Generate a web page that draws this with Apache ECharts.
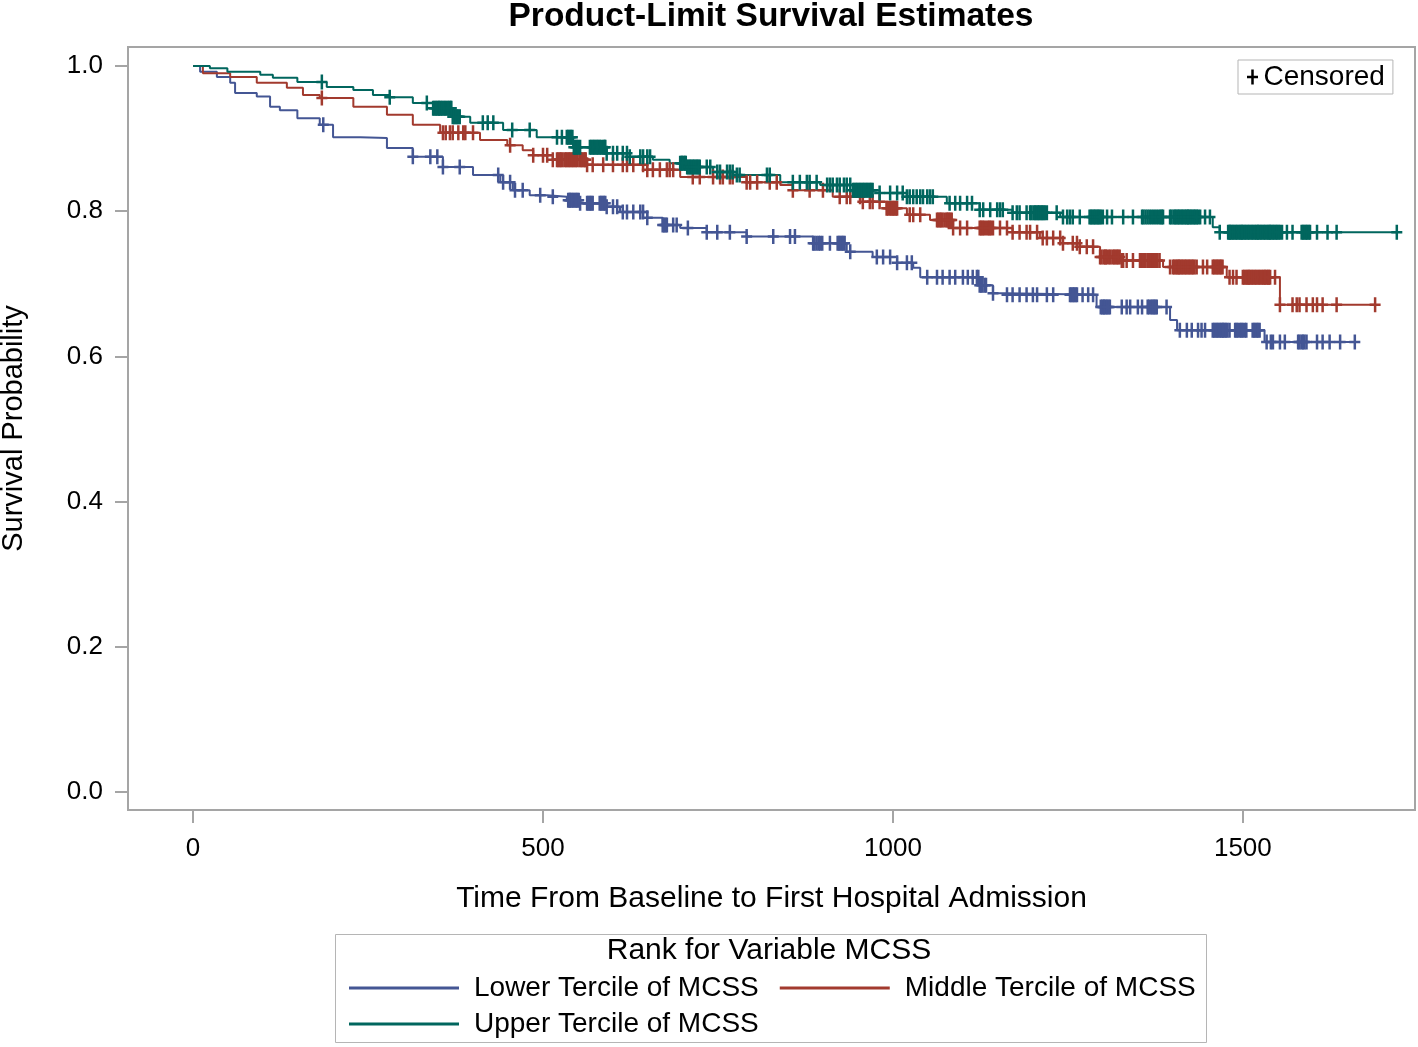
<!DOCTYPE html>
<html>
<head>
<meta charset="utf-8">
<title>Product-Limit Survival Estimates</title>
<script src="https://cdn.jsdelivr.net/npm/echarts@6.0.0/dist/echarts.min.js"></script>
<style>
  html, body { margin: 0; padding: 0; background: #fff; }
  #chart { width: 1418px; height: 1047px; }
</style>
</head>
<body>
<div id="chart"></div>
<script>
// groups
const groupNames = ['Lower Tercile of MCSS', 'Middle Tercile of MCSS', 'Upper Tercile of MCSS'];
const groupColors = ['#445694', '#A23A2E', '#01665E'];

// step estimates: time of each drop and survival after it
const lowerTime = [0, 10, 34, 53, 60, 91, 110, 124, 149, 181, 200, 239, 277, 314, 357, 400, 439, 457, 481, 506, 534, 553, 591, 610, 649, 671, 696, 734, 791, 886, 934, 971, 1006, 1029, 1039, 1124, 1143, 1163, 1291, 1396, 1406, 1531];
const lowerSurv = [1.0, 0.992, 0.985, 0.977, 0.963, 0.958, 0.944, 0.939, 0.928, 0.919, 0.902, 0.901, 0.887, 0.875, 0.861, 0.850, 0.840, 0.829, 0.822, 0.820, 0.815, 0.811, 0.806, 0.799, 0.791, 0.781, 0.777, 0.771, 0.765, 0.756, 0.744, 0.737, 0.729, 0.722, 0.709, 0.698, 0.687, 0.685, 0.668, 0.650, 0.636, 0.620];
// censored times (dense runs show as solid blocks)
const lowerCensor = [186, 314, 339, 349, 357, 381, 436, 443, 453, 460, 471, 496, 514, 539, 543, 549, 553, 563, 567, 571, 581, 587, 591, 600, 606, 614, 620, 629, 639, 643, 649, 671, 677, 686, 691, 707, 734, 749, 767, 791, 829, 853, 860, 886, 891, 899, 910, 921, 927, 931, 939, 977, 986, 996, 1006, 1020, 1027, 1049, 1063, 1071, 1081, 1089, 1100, 1107, 1114, 1120, 1126, 1131, 1143, 1163, 1171, 1181, 1191, 1200, 1206, 1220, 1229, 1253, 1259, 1263, 1271, 1279, 1286, 1299, 1304, 1310, 1327, 1334, 1339, 1350, 1356, 1364, 1369, 1373, 1377, 1391, 1410, 1420, 1427, 1436, 1441, 1446, 1457, 1463, 1469, 1474, 1481, 1489, 1496, 1503, 1514, 1520, 1524, 1534, 1540, 1543, 1553, 1560, 1579, 1584, 1591, 1606, 1614, 1624, 1639, 1660,
  536, 538, 541, 545, 547, 551, 565, 569, 583, 585, 589, 673, 675, 888, 894, 896, 923, 925, 929, 1122, 1124, 1128, 1133, 1255, 1257, 1261, 1297, 1301, 1302, 1306, 1308, 1366, 1371, 1375, 1459, 1461, 1465, 1467, 1471, 1472, 1476, 1478, 1491, 1493, 1498, 1500, 1505, 1516, 1518, 1522, 1581, 1586, 1588];

const middleTime = [0, 14, 53, 91, 134, 157, 181, 229, 277, 314, 353, 410, 449, 471, 486, 514, 563, 649, 696, 791, 839, 857, 914, 957, 991, 1020, 1053, 1086, 1171, 1210, 1243, 1267, 1296, 1327, 1386, 1477, 1553];
const middleSurv = [1.0, 0.990, 0.985, 0.977, 0.970, 0.960, 0.956, 0.944, 0.933, 0.919, 0.908, 0.898, 0.891, 0.884, 0.877, 0.871, 0.864, 0.857, 0.847, 0.840, 0.836, 0.829, 0.820, 0.813, 0.804, 0.795, 0.788, 0.777, 0.771, 0.763, 0.756, 0.751, 0.737, 0.732, 0.723, 0.709, 0.671];
const middleCensor = [184, 357, 361, 367, 371, 379, 386, 389, 400, 453, 486, 500, 506, 514, 520, 526, 531, 537, 543, 549, 554, 560, 563, 571, 586, 600, 614, 620, 629, 643, 649, 657, 667, 677, 681, 686, 714, 724, 743, 753, 757, 767, 771, 791, 796, 806, 824, 834, 857, 881, 900, 924, 934, 939, 953, 957, 967, 971, 981, 991, 996, 1000, 1006, 1024, 1029, 1039, 1063, 1069, 1074, 1080, 1086, 1096, 1106, 1124, 1130, 1136, 1143, 1153, 1163, 1171, 1181, 1191, 1196, 1206, 1214, 1220, 1229, 1239, 1243, 1257, 1263, 1267, 1277, 1286, 1296, 1301, 1306, 1314, 1320, 1324, 1329, 1334, 1343, 1353, 1359, 1364, 1370, 1376, 1381, 1396, 1400, 1406, 1411, 1417, 1423, 1429, 1434, 1443, 1449, 1457, 1463, 1467, 1471, 1481, 1486, 1491, 1500, 1506, 1511, 1517, 1523, 1529, 1534, 1539, 1546, 1553, 1571, 1577, 1581, 1591, 1600, 1606, 1614, 1634, 1689,
  522, 524, 528, 533, 535, 539, 541, 545, 547, 552, 556, 558, 561, 993, 998, 1002, 1004, 1065, 1067, 1071, 1077, 1078, 1082, 1084, 1126, 1128, 1133, 1138, 1140, 1298, 1303, 1304, 1309, 1311, 1316, 1318, 1322, 1327, 1355, 1357, 1361, 1366, 1368, 1372, 1374, 1378, 1402, 1404, 1408, 1409, 1413, 1415, 1419, 1421, 1425, 1427, 1431, 1459, 1461, 1465, 1469, 1502, 1504, 1508, 1509, 1513, 1515, 1519, 1521, 1525, 1527, 1531, 1532, 1536, 1537];

const upperTime = [0, 24, 49, 96, 114, 149, 191, 229, 257, 281, 314, 343, 371, 396, 443, 491, 543, 591, 624, 657, 681, 706, 743, 777, 839, 896, 943, 981, 1020, 1077, 1124, 1171, 1239, 1457, 1467];
const upperSurv = [1.0, 0.997, 0.992, 0.988, 0.984, 0.978, 0.971, 0.967, 0.960, 0.957, 0.949, 0.942, 0.930, 0.922, 0.912, 0.902, 0.888, 0.880, 0.875, 0.871, 0.866, 0.861, 0.854, 0.850, 0.840, 0.836, 0.829, 0.825, 0.820, 0.811, 0.802, 0.798, 0.792, 0.778, 0.771];
const upperCensor = [184, 281, 334, 343, 349, 354, 360, 366, 371, 377, 381, 414, 421, 429, 456, 481, 520, 527, 534, 540, 546, 553, 567, 573, 579, 586, 591, 600, 606, 614, 620, 624, 639, 643, 649, 653, 696, 701, 706, 710, 714, 720, 724, 734, 739, 749, 753, 763, 767, 771, 777, 781, 820, 824, 857, 867, 877, 881, 891, 906, 910, 914, 920, 924, 930, 934, 939, 943, 949, 953, 957, 963, 967, 971, 981, 996, 1006, 1014, 1020, 1024, 1029, 1034, 1039, 1043, 1049, 1053, 1057, 1081, 1089, 1096, 1106, 1113, 1124, 1129, 1139, 1149, 1153, 1157, 1171, 1177, 1181, 1191, 1196, 1201, 1207, 1213, 1220, 1234, 1243, 1249, 1253, 1257, 1267, 1281, 1287, 1293, 1300, 1306, 1313, 1329, 1343, 1356, 1361, 1367, 1373, 1379, 1386, 1396, 1401, 1407, 1413, 1419, 1424, 1430, 1436, 1439, 1446, 1453, 1467, 1479, 1484, 1490, 1496, 1501, 1507, 1513, 1519, 1524, 1530, 1536, 1541, 1547, 1553, 1556, 1563, 1571, 1584, 1590, 1596, 1606, 1621, 1634, 1720,
  345, 347, 351, 352, 356, 358, 362, 364, 368, 369, 373, 375, 379, 536, 538, 542, 544, 548, 550, 569, 571, 575, 577, 581, 583, 588, 589, 698, 699, 703, 704, 708, 712, 716, 718, 722, 945, 947, 951, 955, 959, 961, 965, 969, 1198, 1203, 1205, 1209, 1211, 1215, 1217, 1283, 1285, 1289, 1291, 1295, 1297, 1358, 1364, 1370, 1376, 1382, 1384, 1398, 1403, 1405, 1409, 1411, 1415, 1417, 1421, 1422, 1426, 1428, 1432, 1434, 1481, 1482, 1486, 1488, 1492, 1494, 1498, 1499, 1503, 1505, 1509, 1511, 1515, 1517, 1521, 1522, 1526, 1528, 1532, 1534, 1538, 1539, 1543, 1545, 1549, 1551, 1586, 1588, 1592, 1594];

// tick labels
const xTicks = [0, 500, 1000, 1500];
const yTicks = [0, 0.2, 0.4, 0.6, 0.8, 1.0];

const FONT = '"Liberation Sans", Arial, sans-serif';
const plusPath = 'path://M-1.25,-7.5H1.25V-1.25H5.5V1.25H1.25V7.5H-1.25V1.25H-5.5V-1.25H-1.25Z';

// survival at time t = value of the last step at or before t
const survAt = (times, surv, t) => {
  let s = surv[0];
  for (let i = 0; i < times.length; i++) {
    if (times[i] <= t) s = surv[i];
  }
  return s;
};

// step points, the line runs on to the last observation
const stepData = (times, surv, censor) => {
  const pts = times.map((t, i) => [t, surv[i]]);
  pts.push([Math.max(...censor), surv[surv.length - 1]]);
  return pts;
};

const groups = [
  [lowerTime, lowerSurv, lowerCensor],
  [middleTime, middleSurv, middleCensor],
  [upperTime, upperSurv, upperCensor]
];

const series = [];
groups.forEach(([times, surv, censor], g) => {
  series.push({
    name: groupNames[g],
    type: 'line',
    step: 'end',
    data: stepData(times, surv, censor),
    showSymbol: false,
    symbol: 'none',
    lineStyle: { color: groupColors[g], width: 2 },
    itemStyle: { color: groupColors[g] },
    z: 2
  });
  series.push({
    name: 'Censored',
    type: 'scatter',
    data: censor.map((t) => [t, survAt(times, surv, t)]),
    symbol: plusPath,
    symbolSize: [11, 15],
    itemStyle: { color: groupColors[g], opacity: 1 },
    silent: true,
    z: 3
  });
});

const legendText = { fontSize: 28, color: '#000', fontFamily: FONT };

const chart = echarts.init(document.getElementById('chart'));
chart.setOption({
  animation: false,
  backgroundColor: '#fff',
  title: {
    text: 'Product-Limit Survival Estimates',
    left: 771,
    top: 0,
    textAlign: 'center',
    padding: 0,
    textStyle: { fontSize: 33.5, fontWeight: 'bold', color: '#000', fontFamily: FONT }
  },
  grid: {
    left: 128, top: 47, width: 1287, height: 763,
    outerBoundsMode: 'none',
    containLabel: false,
    show: true, borderColor: '#a5a5a5', borderWidth: 2
  },
  xAxis: {
    type: 'value',
    min: -93,
    max: 1746,
    axisLine: { show: false, onZero: false },
    splitLine: { show: false },
    axisTick: { show: true, customValues: xTicks, length: 13, lineStyle: { color: '#a5a5a5', width: 2 } },
    axisLabel: {
      customValues: xTicks, margin: 26, fontSize: 26, color: '#000', fontFamily: FONT,
      formatter: (v) => String(v)
    },
    name: 'Time From Baseline to First Hospital Admission',
    nameLocation: 'middle',
    nameGap: 74,
    nameTextStyle: { fontSize: 30, color: '#000', fontFamily: FONT }
  },
  yAxis: {
    type: 'value',
    min: -0.0248,
    max: 1.0262,
    axisLine: { show: false, onZero: false },
    splitLine: { show: false },
    axisTick: { show: true, customValues: yTicks, length: 13, lineStyle: { color: '#a5a5a5', width: 2 } },
    axisLabel: {
      customValues: yTicks, margin: 25, fontSize: 26, color: '#000', fontFamily: FONT,
      formatter: (v) => v.toFixed(1)
    },
    name: 'Survival Probability',
    nameLocation: 'middle',
    nameRotate: 90,
    nameGap: 100,
    nameTextStyle: { fontSize: 29, color: '#000', fontFamily: FONT }
  },
  legend: [
    {
      data: [{ name: 'Censored', icon: plusPath, itemStyle: { color: '#000' } }],
      left: 1238, top: 60,
      padding: [3, 8, 3, 9],
      borderColor: '#b5b5b5', borderWidth: 1,
      itemWidth: 12, itemHeight: 15,
      selectedMode: false,
      textStyle: legendText
    },
    {
      data: [groupNames[0], groupNames[1]],
      left: 349, top: 974,
      padding: 0,
      icon: 'rect', itemWidth: 110, itemHeight: 3, itemGap: 21,
      selectedMode: false,
      textStyle: Object.assign({ padding: [0, 0, 0, 10] }, legendText)
    },
    {
      data: [groupNames[2]],
      left: 349, top: 1010,
      padding: 0,
      icon: 'rect', itemWidth: 110, itemHeight: 3,
      selectedMode: false,
      textStyle: Object.assign({ padding: [0, 0, 0, 10] }, legendText)
    }
  ],
  graphic: [
    {
      type: 'rect',
      shape: { x: 335.5, y: 934.5, width: 871, height: 108 },
      style: { fill: 'none', stroke: '#b5b5b5', lineWidth: 1 },
      silent: true
    },
    {
      type: 'text',
      x: 769, y: 951,
      style: {
        text: 'Rank for Variable MCSS', fontSize: 30, fontFamily: FONT, fill: '#000',
        align: 'center', verticalAlign: 'middle'
      },
      silent: true
    }
  ],
  series: series
});
</script>
</body>
</html>
